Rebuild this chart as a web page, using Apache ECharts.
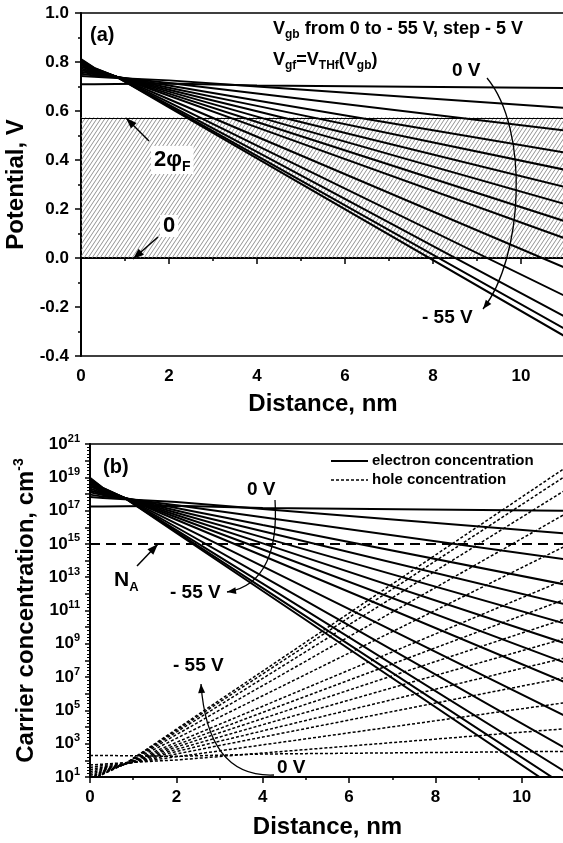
<!DOCTYPE html>
<html>
<head>
<meta charset="utf-8">
<script src="https://cdn.jsdelivr.net/npm/echarts@6/dist/echarts.min.js"></script>
<style>html,body{margin:0;padding:0;background:#fff}#chart{width:563px;height:843px}</style>
</head>
<body>
<div id="chart"></div>
<script>
// distance samples (nm), shared by every curve
var distance = [0, 0.3, 0.8, 2, 4, 11];

// (a) potential, V - one row per back gate step (top row = 0 V, bottom = -55 V)
var potential = [
    [0.709, 0.709, 0.710, 0.712, 0.704, 0.694],
    [0.743, 0.740, 0.735, 0.725, 0.700, 0.613],
    [0.752, 0.745, 0.738, 0.714, 0.671, 0.520],
    [0.760, 0.750, 0.740, 0.704, 0.643, 0.430],
    [0.767, 0.754, 0.740, 0.695, 0.621, 0.360],
    [0.774, 0.757, 0.740, 0.687, 0.599, 0.290],
    [0.781, 0.761, 0.740, 0.679, 0.577, 0.220],
    [0.787, 0.764, 0.740, 0.671, 0.555, 0.150],
    [0.792, 0.766, 0.740, 0.662, 0.533, 0.080],
    [0.797, 0.769, 0.740, 0.648, 0.495, -0.040],
    [0.802, 0.771, 0.740, 0.635, 0.459, -0.155],
    [0.806, 0.773, 0.740, 0.625, 0.433, -0.240],
    [0.809, 0.775, 0.740, 0.619, 0.417, -0.290],
    [0.812, 0.776, 0.740, 0.615, 0.407, -0.320]
];

// (b) carrier concentration as log10(cm^-3)
var logElectron = [
    [17.24, 17.24, 17.26, 17.29, 17.16, 16.99],
    [17.81, 17.76, 17.68, 17.51, 17.09, 15.63],
    [17.96, 17.84, 17.73, 17.32, 16.60, 14.07],
    [18.10, 17.93, 17.76, 17.16, 16.13, 12.56],
    [18.21, 18.00, 17.76, 17.01, 15.76, 11.38],
    [18.33, 18.05, 17.76, 16.87, 15.39, 10.21],
    [18.45, 18.11, 17.76, 16.74, 15.03, 9.03],
    [18.55, 18.16, 17.76, 16.60, 14.66, 7.86],
    [18.63, 18.20, 17.76, 16.45, 14.29, 6.69],
    [18.72, 18.25, 17.76, 16.22, 13.65, 4.67],
    [18.80, 18.28, 17.76, 16.00, 13.05, 2.74],
    [18.87, 18.31, 17.76, 15.83, 12.61, 1.32],
    [18.92, 18.35, 17.76, 15.73, 12.34, 0.48],
    [18.97, 18.36, 17.76, 15.66, 12.17, -0.03]
];
var logHole = [
    [2.29, 2.29, 2.28, 2.24, 2.38, 2.54],
    [1.72, 1.77, 1.86, 2.02, 2.44, 3.90],
    [1.57, 1.69, 1.81, 2.21, 2.93, 5.46],
    [1.44, 1.61, 1.77, 2.38, 3.40, 6.97],
    [1.32, 1.54, 1.77, 2.53, 3.77, 8.15],
    [1.20, 1.49, 1.77, 2.66, 4.14, 9.32],
    [1.09, 1.42, 1.77, 2.80, 4.51, 10.50],
    [0.98, 1.37, 1.77, 2.93, 4.88, 11.67],
    [0.90, 1.34, 1.77, 3.08, 5.25, 12.85],
    [0.82, 1.29, 1.77, 3.32, 5.88, 14.86],
    [0.73, 1.25, 1.77, 3.54, 6.49, 16.79],
    [0.67, 1.22, 1.77, 3.70, 6.92, 18.22],
    [0.62, 1.19, 1.77, 3.80, 7.19, 19.06],
    [0.57, 1.17, 1.77, 3.87, 7.36, 19.56]
];

var twoPhiF = 0.575;
var acceptorConc = 1e15;

var FONT = 'Liberation Sans, Arial, sans-serif';

function pairs(xs, ys) {
    return xs.map(function (x, i) { return [x, ys[i]]; });
}

// diagonal hatching for the 0 .. 2phiF band
var hatch = document.createElement('canvas');
hatch.width = 4; hatch.height = 6;
var hc = hatch.getContext('2d');
hc.strokeStyle = '#777';
hc.lineWidth = 0.8;
hc.beginPath();
hc.moveTo(0, 6); hc.lineTo(4, 0);
hc.moveTo(-1, 1.5); hc.lineTo(1, -1.5);
hc.moveTo(3, 7.5); hc.lineTo(5, 4.5);
hc.stroke();

var series = [];

series.push({
    type: 'line', xAxisIndex: 0, yAxisIndex: 0, data: [[0, twoPhiF]],
    symbol: 'none', lineStyle: { opacity: 0 }, z: 1, silent: true,
    markArea: {
        silent: true,
        itemStyle: { color: { image: hatch, repeat: 'repeat' } },
        data: [[{ xAxis: 0, yAxis: 0 }, { xAxis: 11, yAxis: twoPhiF }]]
    },
    markLine: {
        silent: true, symbol: 'none', label: { show: false },
        lineStyle: { color: '#000', width: 1, type: 'solid' },
        data: [{ yAxis: 0 }, { yAxis: twoPhiF }]
    }
});

potential.forEach(function (row, k) {
    series.push({
        name: 'psi ' + k, type: 'line', xAxisIndex: 0, yAxisIndex: 0,
        data: pairs(distance, row), symbol: 'none', silent: true, z: 3,
        lineStyle: { color: '#000', width: 2 }
    });
});

logElectron.forEach(function (row, k) {
    series.push({
        name: 'n ' + k, type: 'line', xAxisIndex: 1, yAxisIndex: 1,
        data: pairs(distance, row), symbol: 'none', silent: true, z: 3,
        lineStyle: { color: '#000', width: 2 }
    });
});
logHole.forEach(function (row, k) {
    series.push({
        name: 'p ' + k, type: 'line', xAxisIndex: 1, yAxisIndex: 1,
        data: pairs(distance, row), symbol: 'none', silent: true, z: 3,
        lineStyle: { color: '#000', width: 1.5, type: [3, 2] }
    });
});

series.push({
    type: 'line', xAxisIndex: 1, yAxisIndex: 1, data: [[0, Math.log10(acceptorConc)]],
    symbol: 'none', lineStyle: { opacity: 0 }, silent: true, z: 2,
    markLine: {
        silent: true, symbol: 'none', label: { show: false },
        lineStyle: { color: '#000', width: 2, type: [10, 6] },
        data: [{ yAxis: Math.log10(acceptorConc) }]
    }
});

var axisLine = { lineStyle: { color: '#000', width: 2 } };
var labelStyle = { color: '#000', fontFamily: FONT, fontWeight: 'bold', fontSize: 17 };
var nameStyle = { color: '#000', fontFamily: FONT, fontWeight: 'bold', fontSize: 24 };

function xAxisFor(grid, gap) {
    return {
        type: 'value', gridIndex: grid, min: 0, max: 11, interval: 2,
        name: 'Distance, nm', nameLocation: 'middle', nameGap: gap, nameTextStyle: nameStyle,
        axisLine: axisLine,
        axisTick: { length: 6, lineStyle: { color: '#000', width: 1.5 } },
        minorTick: { show: true, splitNumber: 2, length: 3, lineStyle: { color: '#000', width: 1.5 } },
        splitLine: { show: false },
        axisLabel: Object.assign({ margin: 12, formatter: function (v) { return v > 10.5 ? '' : v; } }, labelStyle)
    };
}

var supRich = {
    b: { fontFamily: FONT, fontWeight: 'bold', fontSize: 17, color: '#000', lineHeight: 22 },
    s: { fontFamily: FONT, fontWeight: 'bold', fontSize: 11, color: '#000', verticalAlign: 'top', lineHeight: 12 }
};

var option = {
    animation: false,
    backgroundColor: '#fff',
    grid: [
        { left: 81, right: -2, top: 13, bottom: 487, containLabel: false, outerBoundsMode: 'none', show: true, borderColor: '#000', borderWidth: 1.5 },
        { left: 90, right: -2, top: 444, bottom: 66, containLabel: false, outerBoundsMode: 'none', show: true, borderColor: '#000', borderWidth: 1.5 }
    ],
    xAxis: [xAxisFor(0, 36), xAxisFor(1, 38)],
    yAxis: [
        {
            type: 'value', gridIndex: 0, min: -0.4, max: 1.0, interval: 0.2,
            name: 'Potential, V', nameLocation: 'middle', nameGap: 37, nameTextStyle: nameStyle,
            axisLine: axisLine,
            axisTick: { length: 6, lineStyle: { color: '#000', width: 1.5 } },
            minorTick: { show: true, splitNumber: 2, length: 3, lineStyle: { color: '#000', width: 1.5 } },
            splitLine: { show: false },
            axisLabel: Object.assign({ margin: 12, formatter: function (v) { return v.toFixed(1); } }, labelStyle)
        },
        {
            // log10 scale: one tick per decade, labels every other decade
            type: 'value', gridIndex: 1, min: 1, max: 21, interval: 1,
            name: '{t|Carrier concentration, cm}{s|-3}', nameLocation: 'middle', nameGap: 49,
            nameTextStyle: {
                rich: {
                    t: { fontFamily: FONT, fontWeight: 'bold', fontSize: 24, color: '#000', lineHeight: 28 },
                    s: { fontFamily: FONT, fontWeight: 'bold', fontSize: 14, color: '#000', verticalAlign: 'top', lineHeight: 14 }
                }
            },
            axisLine: axisLine,
            axisTick: { length: 5, lineStyle: { color: '#000', width: 1.5 } },
            minorTick: { show: true, splitNumber: 5, length: 3, lineStyle: { color: '#000', width: 1 } },
            splitLine: { show: false },
            axisLabel: {
                margin: 10,
                formatter: function (v) {
                    var e = Math.round(v);
                    return e % 2 === 0 ? '' : '{b|10}{s|' + e + '}';
                },
                rich: supRich
            }
        }
    ],
    series: series
};

var chart = echarts.init(document.getElementById('chart'), null, { renderer: 'canvas' });
chart.setOption(option);

// ---- annotations ----
var g = [];
function txt(x, y, text, size, extra) {
    var st = { text: text, x: x, y: y, fontFamily: FONT, fontWeight: 'bold', fontSize: size, fill: '#000', align: 'left', verticalAlign: 'middle' };
    Object.assign(st, extra || {});
    g.push({ type: 'text', z: 50, style: st });
}
function subRich(base, sub) {
    return {
        b: { fontFamily: FONT, fontWeight: 'bold', fontSize: base, fill: '#000', lineHeight: base + 6 },
        s: { fontFamily: FONT, fontWeight: 'bold', fontSize: sub, fill: '#000', verticalAlign: 'bottom', lineHeight: sub }
    };
}
function head(tip, from, len, half) {
    var dx = tip[0] - from[0], dy = tip[1] - from[1], d = Math.sqrt(dx * dx + dy * dy);
    var ux = dx / d, uy = dy / d;
    var bx = tip[0] - ux * len, by = tip[1] - uy * len;
    g.push({ type: 'polygon', z: 50, shape: { points: [tip, [bx - uy * half, by + ux * half], [bx + uy * half, by - ux * half]] }, style: { fill: '#000' } });
}
function arrow(from, tip) {
    g.push({ type: 'line', z: 50, shape: { x1: from[0], y1: from[1], x2: tip[0], y2: tip[1] }, style: { stroke: '#000', lineWidth: 1.5 } });
    head(tip, from, 11, 4);
}
function curve(p0, c1, c2, p3) {
    g.push({ type: 'bezierCurve', z: 50, shape: { x1: p0[0], y1: p0[1], cpx1: c1[0], cpy1: c1[1], cpx2: c2[0], cpy2: c2[1], x2: p3[0], y2: p3[1] }, style: { stroke: '#000', lineWidth: 1.3, fill: null } });
    head(p3, c2, 9, 3.5);
}

// panel (a)
txt(90, 35, '(a)', 20);
txt(273, 29, '{b|V}{s|gb}{b| from 0 to - 55 V, step - 5 V}', 18, { rich: subRich(18, 12) });
txt(273, 60, '{b|V}{s|gf}{b|=V}{s|THf}{b|(V}{s|gb}{b|)}', 18, { rich: subRich(18, 12) });
txt(452, 71, '0 V', 19);
txt(422, 318, '- 55 V', 19);
curve([487, 78], [530, 130], [523, 258], [483, 309]);
txt(151, 160, '{b|2\u03c6}{s|F}', 22, { rich: subRich(22, 14), backgroundColor: '#fff', padding: [0, 3] });
arrow([149, 141], [126, 118]);
txt(160, 226, '0', 22, { backgroundColor: '#fff', padding: [0, 3] });
arrow([158, 237], [133, 259]);

// panel (b)
txt(103, 467, '(b)', 20);
g.push({ type: 'line', z: 50, shape: { x1: 331, y1: 461, x2: 368, y2: 461 }, style: { stroke: '#000', lineWidth: 2 } });
g.push({ type: 'line', z: 50, shape: { x1: 331, y1: 480, x2: 368, y2: 480 }, style: { stroke: '#000', lineWidth: 1.5, lineDash: [3, 2] } });
txt(372, 461, 'electron concentration', 15);
txt(372, 480, 'hole concentration', 15);
txt(247, 490, '0 V', 19);
curve([275, 500], [278, 548], [266, 586], [227, 592]);
txt(170, 593, '- 55 V', 19);
txt(114, 580, '{b|N}{s|A}', 21, { rich: subRich(21, 13) });
arrow([137, 566], [158, 544]);
txt(173, 666, '- 55 V', 19);
curve([274, 775], [226, 777], [205, 740], [201, 684]);
txt(277, 768, '0 V', 19);

chart.setOption({ graphic: g });
</script>
</body>
</html>
